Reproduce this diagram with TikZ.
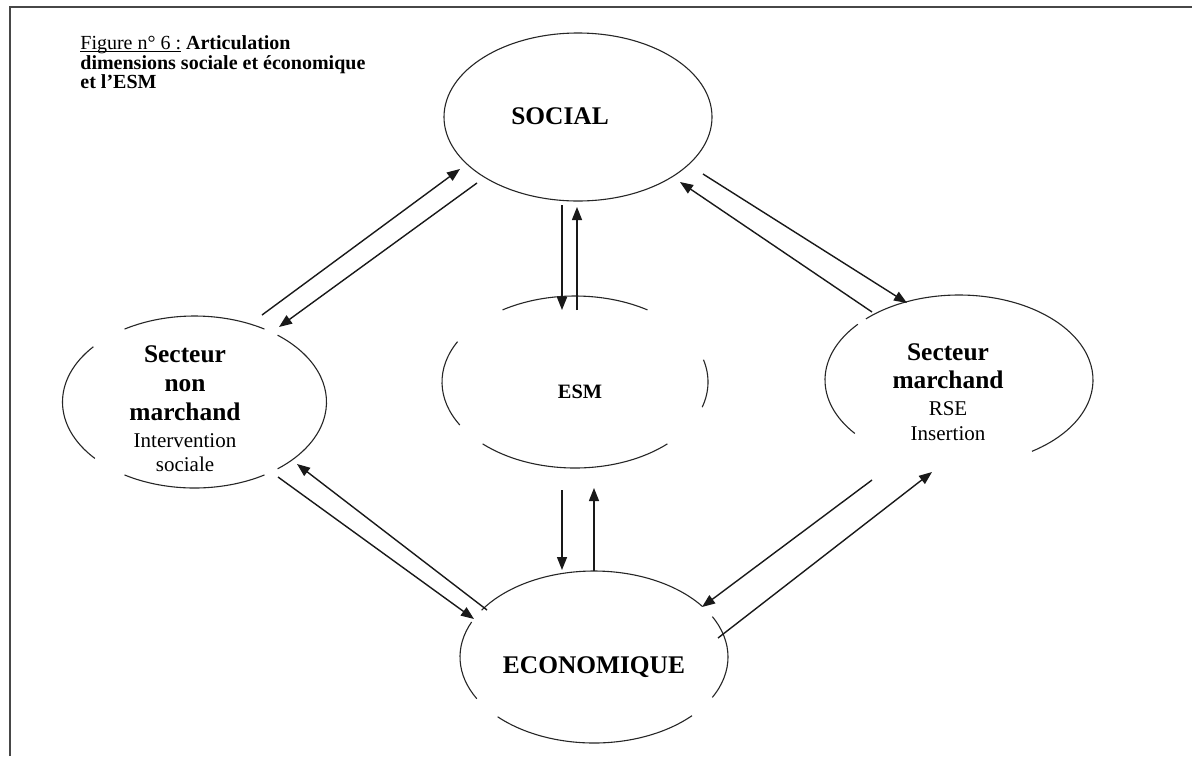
\documentclass[tikz,border=0pt]{standalone}
\usepackage{fontspec}
\setmainfont{Liberation Serif}
\usetikzlibrary{arrows.meta}
\begin{document}
\begin{tikzpicture}[x=0.5pt,y=-0.5pt,
  frameline/.style={draw=black!72,line width=1.3pt},
  ring/.style={draw=black!85,line width=0.55pt},
  link/.style={draw=black!90,line width=0.7pt},
  linkhead/.style={link,-{Triangle[length=6.5pt,width=5pt]}},
  head/.style={font=\fontsize{12.7}{14.5}\selectfont\bfseries,anchor=base,inner sep=0pt},
  sub/.style={font=\fontsize{10.5}{12.5}\selectfont,anchor=base,inner sep=0pt},
  titleline/.style={anchor=base west,inner sep=0pt,font=\fontsize{10}{11}\selectfont}]
\useasboundingbox (0,0) rectangle (1192,756);
\fill[white] (0,0) rectangle (1192,756);

% page frame (left and top edges)
\draw[frameline] (10,756) -- (10,7) -- (1192,7);

% title
\node[titleline] (title1) at (80,49)
  {\underline{\smash{Figure n° 6 :}} \textbf{Articulation}};
\node[titleline,font=\fontsize{10}{11}\selectfont\bfseries] (title2) at (80,69)
  {dimensions sociale et économique};
\node[titleline,font=\fontsize{10}{11}\selectfont\bfseries] (title3) at (80,88)
  {et l’ESM};

% ellipse centres
\coordinate (social) at (578,117);
\coordinate (esm) at (575,382);
\coordinate (nonmarch) at (194.5,402);
\coordinate (march) at (959,380);
\coordinate (eco) at (594,657);

% SOCIAL: closed outline
\draw[ring] (social) ellipse [x radius=134, y radius=84];

% ESM: broken outline
\draw[ring] (esm) ++(-123:133 and 86) arc[start angle=-123,end angle=-57,x radius=133,y radius=86];
\draw[ring] (esm) ++(150:133 and 86) arc[start angle=150,end angle=208,x radius=133,y radius=86];
\draw[ring] (esm) ++(-15:133 and 86) arc[start angle=-15,end angle=17,x radius=133,y radius=86];
\draw[ring] (esm) ++(46:133 and 86) arc[start angle=46,end angle=134,x radius=133,y radius=86];

% Secteur non marchand: broken outline
\draw[ring] (nonmarch) ++(-122:132 and 86) arc[start angle=-122,end angle=-58,x radius=132,y radius=86];
\draw[ring] (nonmarch) ++(139:132 and 86) arc[start angle=139,end angle=220,x radius=132,y radius=86];
\draw[ring] (nonmarch) ++(-51:132 and 86) arc[start angle=-51,end angle=51,x radius=132,y radius=86];
\draw[ring] (nonmarch) ++(58:132 and 86) arc[start angle=58,end angle=122,x radius=132,y radius=86];

% Secteur marchand: broken outline
\draw[ring] (march) ++(141:134 and 85) arc[start angle=141,end angle=221,x radius=134,y radius=85];
\draw[ring] (march) ++(-134:134 and 85) arc[start angle=-134,end angle=57,x radius=134,y radius=85];

% ECONOMIQUE: broken outline
\draw[ring] (eco) ++(151:134 and 86) arc[start angle=151,end angle=204,x radius=134,y radius=86];
\draw[ring] (eco) ++(-147:134 and 86) arc[start angle=-147,end angle=-36,x radius=134,y radius=86];
\draw[ring] (eco) ++(-28:134 and 86) arc[start angle=-28,end angle=28,x radius=134,y radius=86];
\draw[ring] (eco) ++(43:134 and 86) arc[start angle=43,end angle=136,x radius=134,y radius=86];

% labels
\node[head] (socialtxt) at (560,124) {SOCIAL};
\node[head,font=\fontsize{10.2}{12}\selectfont\bfseries] (esmtxt) at (580,398) {ESM};
\node[head] (ecotxt) at (594,673) {ECONOMIQUE};

\node[head] (nm1) at (185,362) {Secteur};
\node[head] (nm2) at (185,391) {non};
\node[head] (nm3) at (185,420) {marchand};
\node[sub]  (nm4) at (185,447) {Intervention};
\node[sub]  (nm5) at (185,471) {sociale};

\node[head] (m1) at (948,360) {Secteur};
\node[head] (m2) at (948,388) {marchand};
\node[sub]  (m3) at (948,415) {RSE};
\node[sub]  (m4) at (948,440) {Insertion};

% connector end points
\coordinate (a1) at (262,315);  \coordinate (a2) at (460,169);
\coordinate (b1) at (477,183);  \coordinate (b2) at (279,327);
\coordinate (c1) at (703,174);  \coordinate (c2) at (907,303);
\coordinate (d1) at (872,312);  \coordinate (d2) at (680,182);
\coordinate (e1) at (487,610);  \coordinate (e2) at (297,464);
\coordinate (f1) at (278,477);  \coordinate (f2) at (474,619);
\coordinate (g1) at (872,480);  \coordinate (g2) at (702,607);
\coordinate (h1) at (718,638);  \coordinate (h2) at (932,472);
\coordinate (i1) at (562,205);  \coordinate (i2) at (562,310);
\coordinate (j1) at (577,310);  \coordinate (j2) at (577,207);
\coordinate (k1) at (562,490);  \coordinate (k2) at (562,570);
\coordinate (l1) at (594,571);  \coordinate (l2) at (594,488);

% exchanges between the spheres
\draw[linkhead] (a1) -- (a2);
\draw[linkhead] (b1) -- (b2);
\draw[linkhead] (c1) -- (c2);
\draw[linkhead] (d1) -- (d2);
\draw[linkhead] (e1) -- (e2);
\draw[linkhead] (f1) -- (f2);
\draw[linkhead] (g1) -- (g2);
\draw[linkhead] (h1) -- (h2);
\draw[linkhead] (i1) -- (i2);
\draw[linkhead] (j1) -- (j2);
\draw[linkhead] (k1) -- (k2);
\draw[linkhead] (l1) -- (l2);
\end{tikzpicture}
\end{document}
